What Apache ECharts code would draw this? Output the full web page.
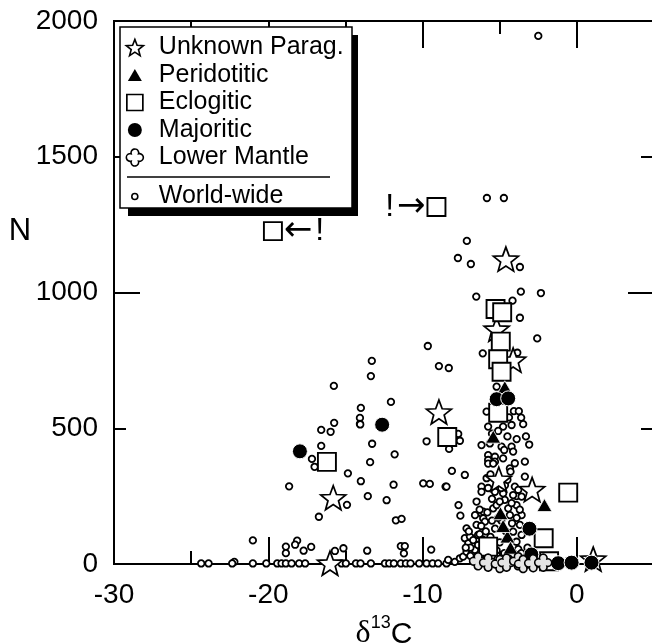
<!DOCTYPE html>
<html>
<head>
<meta charset="utf-8">
<script src="https://cdn.jsdelivr.net/npm/echarts@6/dist/echarts.min.js"></script>
<style>
html,body{margin:0;padding:0;background:#fff;}
#chart{width:652px;height:644px;}
</style>
</head>
<body>
<div id="chart"></div>
<script>
// δ13C (‰) versus nitrogen content N (ppm) for diamond inclusion suites
const X_MIN = -30, X_MAX = 5;
const Y_MIN = 0, Y_MAX = 2000;

const unknownParag = [
  [-4.6, 1123], [-5.2, 865], [-4.13, 751], [-8.94, 560], [-15.79, 244],
  [-16.0, 3], [-5.06, 312], [-2.9, 274], [1.06, 18]
];
const peridotitic = [
  [-4.67, 651], [-5.42, 469], [-4.95, 187], [-2.1, 217], [-4.5, 101],
  [-4.78, 140], [-4.3, 60]
];
const eclogitic = [
  [-16.2, 376], [-8.4, 468], [-5.27, 939], [-4.84, 927], [-4.93, 819],
  [-5.1, 754], [-4.88, 708], [-5.1, 557], [-0.56, 263], [-2.15, 95],
  [-5.75, 64], [-1.8, 10]
];
// eclogitic analyses flagged with a note beside the symbol
const eclogiticFlagged = [[-19.7, 1226], [-9.1, 1315]];
const flagNotes = ['\u2190!', '!\u2192'];
const majoritic = [
  [-17.95, 415], [-12.62, 513], [-5.2, 607], [-4.45, 610], [-3.07, 130],
  [-2.95, 35], [-1.21, 3], [-0.34, 5], [0.95, 5]
];
const lowerMantle = [
  [-6.4, 10], [-5.75, 5], [-4.99, 0], [-4.56, 5], [-3.8, 10],
  [-3.48, 0], [-2.83, 3], [-2.18, 5]
];
const worldWideScatter = [
  [-2.5, 1945], [-5.83, 1348], [-4.73, 1348], [-7.13, 1190], [-7.71, 1127],
  [-6.87, 1105], [-3.69, 1094], [-3.63, 1003], [-2.33, 998], [-6.52, 985],
  [-4.17, 970], [-3.69, 907], [-2.57, 831], [-9.66, 803], [-6.1, 776],
  [-3.86, 778], [-13.29, 748], [-8.94, 729], [-8.3, 722], [-13.35, 692],
  [-15.75, 656], [-5.2, 653], [-12.05, 597], [-14.0, 575], [-5.85, 561],
  [-4.08, 563], [-3.76, 563], [-3.61, 539], [-3.48, 515], [-14.06, 538],
  [-14.06, 516], [-15.73, 520], [-16.57, 494], [-15.96, 487], [-14.04, 514],
  [-13.27, 443], [-16.57, 435], [-17.17, 387], [-17.0, 358], [-13.4, 375],
  [-11.81, 404], [-9.74, 452], [-7.69, 479], [-7.58, 454], [-8.28, 424],
  [-14.84, 334], [-14.0, 305], [-11.88, 292], [-9.96, 297], [-9.53, 295],
  [-8.51, 285], [-18.65, 286], [-14.9, 218], [-13.55, 250], [-12.33, 235],
  [-16.72, 174], [-11.73, 161], [-11.36, 166], [-18.13, 86], [-18.26, 71],
  [-17.71, 49], [-17.22, 63], [-15.13, 58], [-15.68, 48], [-13.59, 49],
  [-11.41, 66], [-11.15, 66], [-11.21, 39], [-9.44, 53], [-21.0, 87],
  [-18.86, 64], [-18.86, 40], [-22.2, 8]
];
const worldWideBaseline = [
  [-24.35, 2], [-23.87, 2], [-22.34, 2], [-21.0, 2], [-20.13, 2],
  [-19.42, 2], [-19.14, 2], [-18.86, 2], [-18.49, 2], [-18.0, 2],
  [-17.61, 2], [-15.25, 2], [-14.97, 2], [-14.32, 2], [-14.02, 2],
  [-13.35, 2], [-12.44, 2], [-12.16, 2], [-11.86, 2], [-11.41, 2],
  [-11.08, 2], [-10.78, 2], [-10.22, 2], [-9.74, 2], [-9.35, 2],
  [-8.99, 2], [-8.45, 2]
];
const worldWideCluster = [
  [-6.18, 438], [-5.64, 444], [-4.88, 432], [-4.71, 420], [-4.23, 432],
  [-4.13, 414], [-3.09, 440], [-5.75, 401], [-5.31, 395], [-5.75, 383],
  [-5.31, 377], [-4.78, 389], [-4.02, 371], [-4.34, 352], [-3.37, 377],
  [-8.1, 343], [-7.26, 328], [-8.45, 285], [-5.85, 316], [-6.18, 285],
  [-6.18, 266], [-5.75, 280], [-5.31, 266], [-4.66, 290], [-4.78, 260],
  [-4.02, 285], [-3.8, 273], [-3.91, 250], [-3.37, 322], [-7.67, 217],
  [-7.55, 178], [-6.18, 187], [-6.07, 168], [-5.96, 156], [-6.07, 193],
  [-5.42, 205], [-5.2, 217], [-4.45, 205], [-4.34, 180], [-3.58, 180],
  [-3.91, 217], [-4.67, 236], [-4.23, 224], [-4.13, 254], [-3.58, 248],
  [-7.15, 131], [-6.5, 144], [-6.4, 107], [-6.82, 95], [-7.26, 95],
  [-7.04, 76], [-3.69, 144], [-3.58, 107], [-3.91, 82], [-4.13, 119],
  [-6.93, 101], [-6.72, 88], [-8.34, 15], [-7.91, 8], [-7.58, 21],
  [-7.37, 27], [-7.15, 45], [-6.82, 39], [-6.61, 52], [-6.18, 27],
  [-5.85, 21], [-5.75, 370], [-5.42, 370], [-5.75, 506], [-4.78, 506],
  [-4.23, 512], [-6.9, 60], [-6.4, 70], [-6.0, 40], [-5.6, 100],
  [-5.0, 80], [-4.2, 30], [-3.8, 55], [-6.7, 15], [-5.3, 130],
  [-5.0, 230], [-4.5, 310], [-4.3, 340], [-5.6, 330], [-6.5, 230],
  [-6.3, 110], [-7.0, 120], [-5.5, 30], [-4.0, 10], [-3.4, 20],
  [-5.9, 120], [-4.9, 160], [-3.7, 200], [-4.5, 470], [-5.1, 490],
  [-3.9, 460], [-5.5, 480], [-4.4, 540], [-5.3, 600], [-4.8, 580],
  [-3.3, 470], [-6.6, 180], [-6.3, 200], [-5.8, 190], [-5.5, 160],
  [-5.1, 170], [-4.6, 120], [-4.2, 150], [-3.9, 170], [-6.1, 90],
  [-5.8, 60], [-5.2, 50], [-4.7, 40], [-4.4, 20], [-3.6, 40],
  [-3.2, 60], [-6.9, 30], [-7.2, 60], [-6.2, 140], [-5.5, 240],
  [-4.9, 280]
];
const legendMain = ['Unknown Parag.', 'Peridotitic', 'Eclogitic', 'Majoritic', 'Lower Mantle'];
const legendRef = ['World-wide'];

const FONT = 'Liberation Sans';
const STAR = 'path://M0,-10L2.469,-3.398L9.511,-3.09L3.994,1.298L5.878,8.09L0,4.2L-5.878,8.09L-3.994,1.298L-9.511,-3.09L-2.469,-3.398Z';
const QUATREFOIL = 'path://M-4.35,-4.35A4.5,4.5,0,1,1,4.35,-4.35A4.5,4.5,0,1,1,4.35,4.35A4.5,4.5,0,1,1,-4.35,4.35A4.5,4.5,0,1,1,-4.35,-4.35Z';
const TRIANGLE = 'path://M0,-10L10,7.32L-10,7.32Z';
const SQUARE = 'path://M-10,-10L10,-10L10,10L-10,10Z';

// legend keys: each glyph sits centred in a fixed 38 x 17 frame (two bare move-to points)
const KEY_FRAME = 'path://M-19,-8.5M19,8.5';
const legendGlyphs = {
  'Unknown Parag.': 'M0,-8.1L2.234,-2.2L8.56,-1.9L3.614,2.05L5.29,8.15L0,4.67L-5.29,8.15L-3.614,2.05L-8.56,-1.9L-2.234,-2.2Z',
  'Peridotitic': 'M0,-6L7,6L-7,6Z',
  'Eclogitic': 'M-8,-8L8,-8L8,8L-8,8Z',
  'Majoritic': 'M-7,0A7,7,0,1,1,7,0A7,7,0,1,1,-7,0Z',
  'Lower Mantle': 'M-3.7,-3.7A3.83,3.83,0,1,1,3.7,-3.7A3.83,3.83,0,1,1,3.7,3.7A3.83,3.83,0,1,1,-3.7,3.7A3.83,3.83,0,1,1,-3.7,-3.7Z',
  'World-wide': 'M-3,0A3,3,0,1,1,3,0A3,3,0,1,1,-3,0Z'
};

function xAxisDef(position, interval, tickLen, withLabels) {
  return {
    type: 'value', position: position, min: X_MIN, max: X_MAX, interval: interval,
    axisLine: { show: true, onZero: false, lineStyle: { color: '#000', width: 2 } },
    axisTick: { show: true, inside: true, length: tickLen, lineStyle: { color: '#000', width: 2 } },
    axisLabel: { show: withLabels, margin: 17, fontSize: 28, fontFamily: FONT, color: '#000', showMaxLabel: false,
      formatter: v => String(v) },
    splitLine: { show: false }
  };
}
function yAxisDef(position, interval, tickLen, withLabels) {
  return {
    type: 'value', position: position, min: Y_MIN, max: Y_MAX, interval: interval,
    axisLine: { show: true, onZero: false, lineStyle: { color: '#000', width: 2 } },
    axisTick: { show: true, inside: true, length: tickLen, lineStyle: { color: '#000', width: 2 } },
    axisLabel: { show: withLabels, margin: 16, fontSize: 28, fontFamily: FONT, color: '#000',
      formatter: v => String(v) },
    splitLine: { show: false }
  };
}

const bottomMajor = xAxisDef('bottom', 10, 27, true);
bottomMajor.name = '{d|\u03b4}{s|13}{c|C}';
bottomMajor.nameLocation = 'middle';
bottomMajor.nameGap = 48;
bottomMajor.nameTextStyle = {
  color: '#000',
  rich: {
    d: { fontSize: 32, fontFamily: 'Liberation Serif', color: '#000', lineHeight: 32, verticalAlign: 'bottom' },
    s: { fontSize: 18, fontFamily: FONT, color: '#000', lineHeight: 18, verticalAlign: 'bottom', padding: [0, 0, 18, 0] },
    c: { fontSize: 30, fontFamily: FONT, color: '#000', lineHeight: 32, verticalAlign: 'bottom' }
  }
};

function flaggedItem(pt, note) {
  const rich = note.split('').map(ch => ch === '!' ? '{ex|!}' : '{ar|' + ch + '}').join('');
  return {
    value: pt,
    label: {
      show: true,
      position: note.charAt(0) === '!' ? 'left' : 'right',
      distance: 1,
      formatter: rich,
      rich: {
        ex: { fontSize: 32, fontFamily: FONT, color: '#000', padding: [0, 3, 0, 3] },
        ar: { fontSize: 34, fontFamily: 'DejaVu Sans', color: '#000' }
      }
    }
  };
}

function scatter(name, data, symbol, size, itemStyle, z) {
  return {
    type: 'scatter', name: name, data: data, symbol: symbol, symbolSize: size,
    itemStyle: Object.assign({ opacity: 1 }, itemStyle), z: z, xAxisIndex: 0, yAxisIndex: 0,
    silent: true, animation: false, emphasis: { disabled: true }
  };
}

const series = [
  scatter('World-wide', worldWideScatter.concat(worldWideBaseline, worldWideCluster), 'circle', 6.5,
    { color: '#fff', borderColor: '#000', borderWidth: 1.8 }, 2),
  scatter('Unknown Parag.', unknownParag, STAR, [25, 24], { color: '#fff', borderColor: '#000', borderWidth: 1.7 }, 3),
  scatter('Eclogitic', eclogitic.concat(eclogiticFlagged.map((p, i) => flaggedItem(p, flagNotes[i]))), SQUARE, 18,
    { color: '#fff', borderColor: '#000', borderWidth: 1.9 }, 4),
  scatter('Peridotitic', peridotitic, TRIANGLE, [15, 13], { color: '#000', borderColor: '#fff', borderWidth: 0.8 }, 5),
  scatter('Majoritic', majoritic, 'circle', 15, { color: '#000', borderColor: '#fff', borderWidth: 1 }, 5),
  scatter('Lower Mantle', lowerMantle, QUATREFOIL, 17, { color: '#e4e4e4', borderColor: '#000', borderWidth: 1.6 }, 6)
];

const legendText = { fontSize: 25, fontFamily: FONT, color: '#000', lineHeight: 25 };
const keyStyles = {
  'Unknown Parag.': { color: '#fff', borderColor: '#000', borderWidth: 1.6, opacity: 1 },
  'Peridotitic': { color: '#000', borderWidth: 0, opacity: 1 },
  'Eclogitic': { color: '#fff', borderColor: '#000', borderWidth: 1.7, opacity: 1 },
  'Majoritic': { color: '#000', borderWidth: 0, opacity: 1 },
  'Lower Mantle': { color: '#fff', borderColor: '#000', borderWidth: 1.6, opacity: 1 },
  'World-wide': { color: '#fff', borderColor: '#000', borderWidth: 1.6, opacity: 1 }
};
function legendItem(n) {
  return { name: n, icon: KEY_FRAME + legendGlyphs[n], itemStyle: keyStyles[n] };
}

const option = {
  backgroundColor: '#fff',
  animation: false,
  grid: { left: 114, right: -2, top: 21, bottom: 80, containLabel: false, outerBoundsMode: 'none' },
  xAxis: [
    bottomMajor,
    xAxisDef('bottom', 5, 13, false),
    xAxisDef('top', 10, 27, false),
    xAxisDef('top', 5, 13, false)
  ],
  yAxis: [
    yAxisDef('left', 500, 12, true),
    yAxisDef('left', 1000, 26, false),
    yAxisDef('right', 1000, 26, false),
    yAxisDef('right', 500, 13, false)
  ],
  legend: [
    {
      orient: 'vertical', align: 'left', left: 115, top: 35, padding: 0, itemGap: 2.5,
      itemWidth: 38, itemHeight: 17, selectedMode: false, symbolKeepAspect: true,
      data: legendMain.map(legendItem),
      textStyle: legendText
    },
    {
      orient: 'vertical', align: 'left', left: 115, top: 184, padding: 0,
      itemWidth: 38, itemHeight: 17, selectedMode: false, symbolKeepAspect: true,
      data: legendRef.map(legendItem),
      textStyle: legendText
    }
  ],
  graphic: [
    { type: 'rect', z: 3, shape: { x: 128, y: 35, width: 230, height: 181 }, style: { fill: '#000' }, silent: true },
    { type: 'rect', z: 3, shape: { x: 120, y: 27, width: 232, height: 181 }, style: { fill: '#fff', stroke: '#000', lineWidth: 1.5 }, silent: true },
    { type: 'line', z: 3, shape: { x1: 127, y1: 177, x2: 330, y2: 177 }, style: { stroke: '#000', lineWidth: 1.5 }, silent: true },
    { type: 'text', z: 3, style: { text: 'N', x: 20, y: 231, textAlign: 'center', textVerticalAlign: 'middle', font: '31px "Liberation Sans"', fill: '#000' }, silent: true }
  ],
  series: series
};

const chart = echarts.init(document.getElementById('chart'), null, { renderer: 'canvas' });
chart.setOption(option);
</script>
</body>
</html>
